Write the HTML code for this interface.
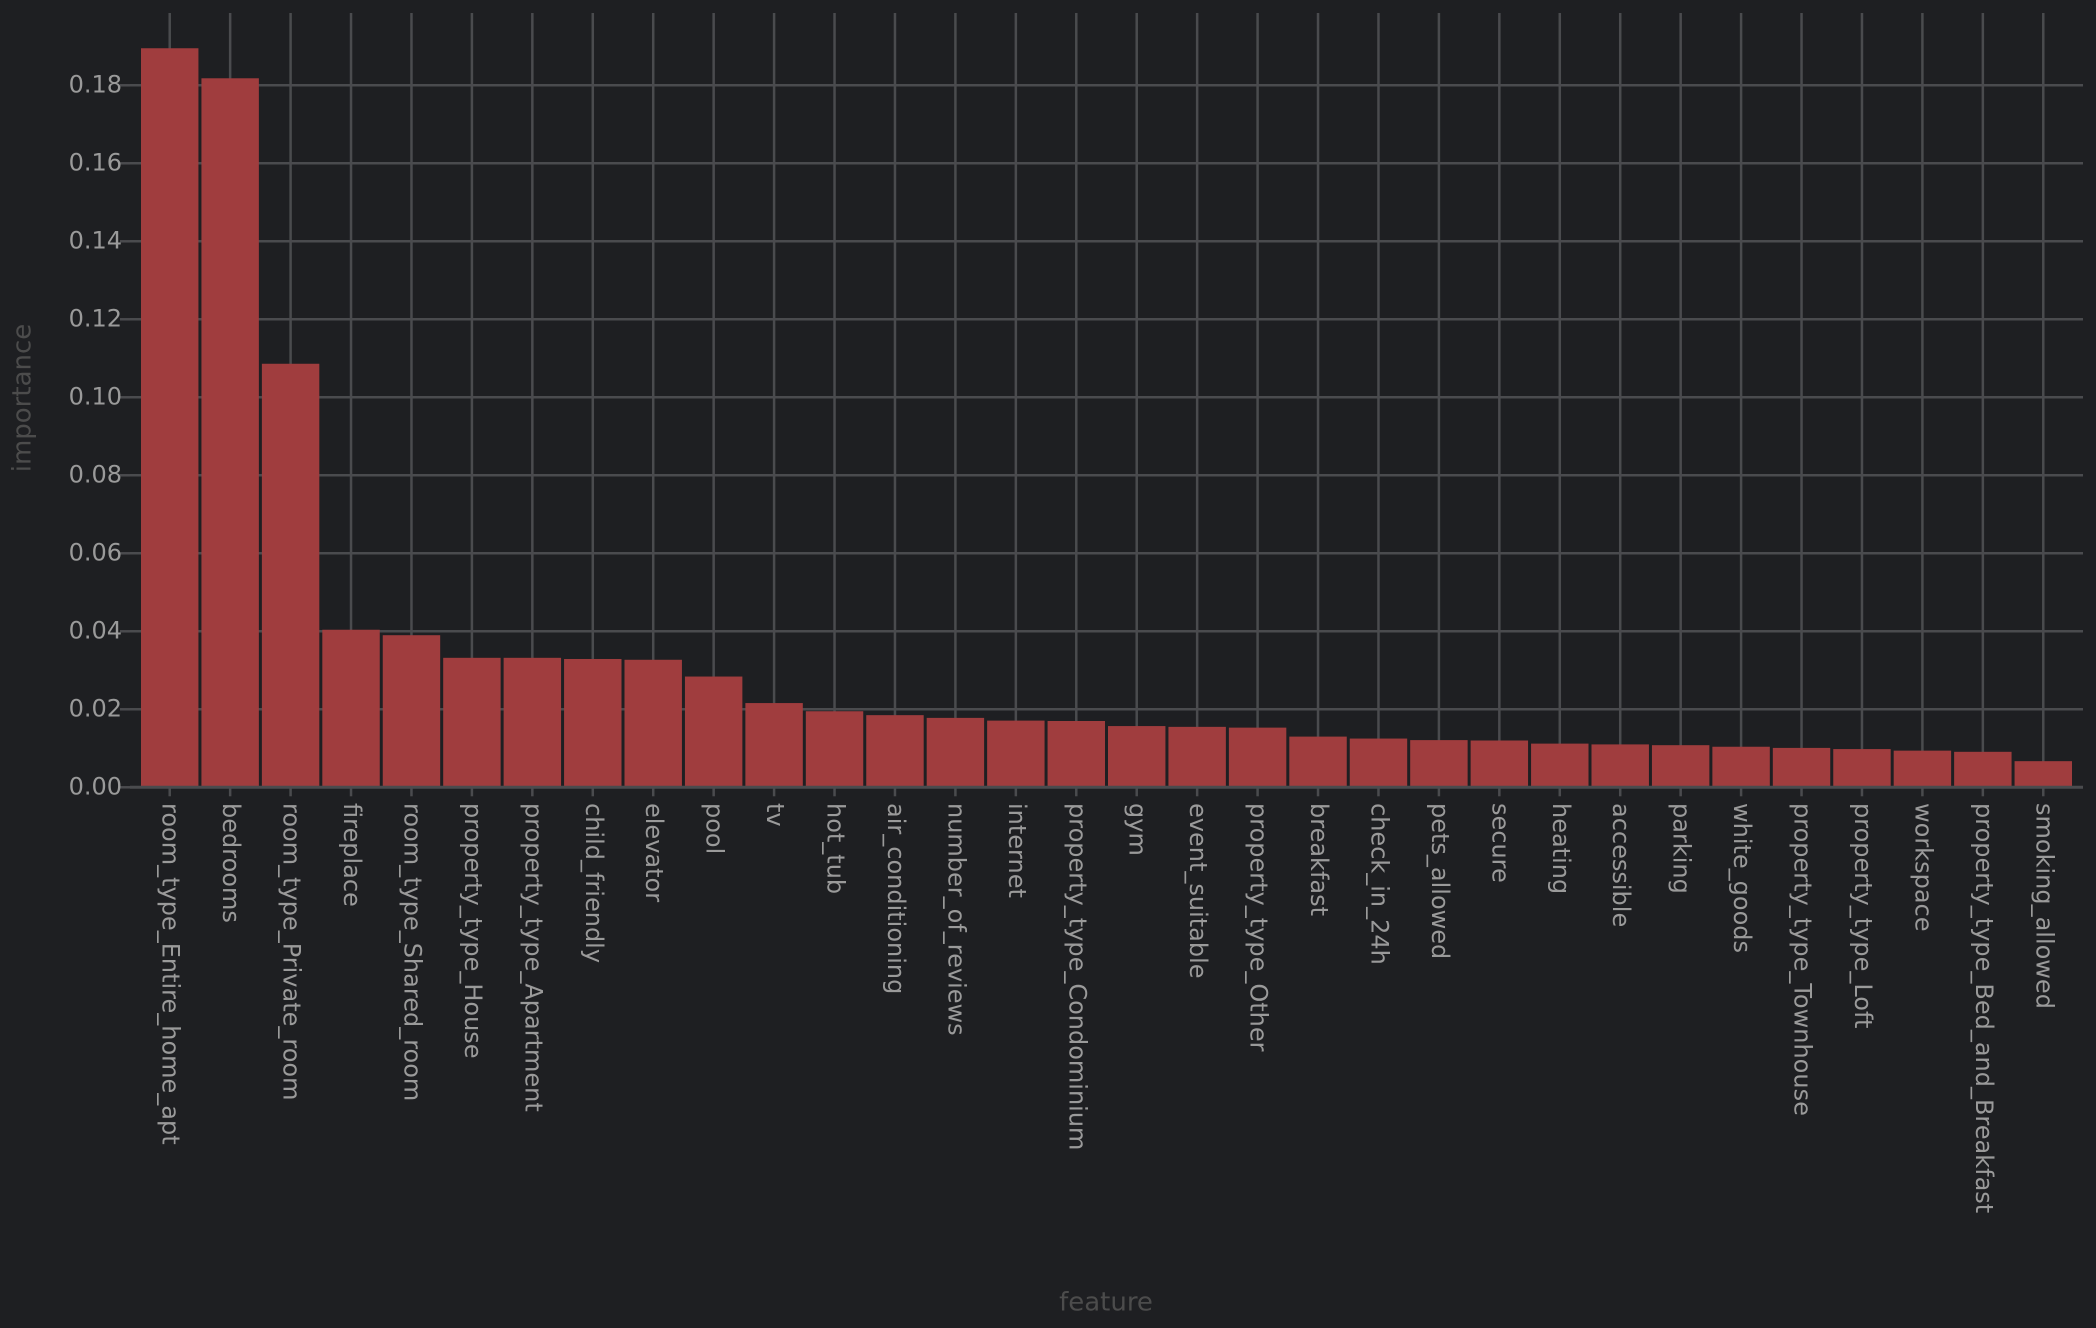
<!DOCTYPE html>
<html><head><meta charset="utf-8"><style>
html,body{margin:0;padding:0;background:#1e1f22;}
svg{display:block;font-family:"DejaVu Sans","Liberation Sans",sans-serif;}
</style></head><body>
<svg id="chart" width="2096" height="1328" viewBox="0 0 2096 1328">
<rect x="0" y="0" width="2096" height="1328" fill="#1e1f22"/>
<g id="grid"></g>
<g id="bars"></g>
<g id="xaxis"></g>
<g id="yaxis"></g>
<text x="23" y="398" transform="rotate(-90 23 398)" text-anchor="middle" dominant-baseline="middle" font-size="26" fill="#4c4c4c">importance</text>
<text x="1106" y="1303" text-anchor="middle" dominant-baseline="middle" font-size="26" fill="#4c4c4c">feature</text>
</svg>
<script>
const categories = ["room_type_Entire_home_apt","bedrooms","room_type_Private_room","fireplace","room_type_Shared_room","property_type_House","property_type_Apartment","child_friendly","elevator","pool","tv","hot_tub","air_conditioning","number_of_reviews","internet","property_type_Condominium","gym","event_suitable","property_type_Other","breakfast","check_in_24h","pets_allowed","secure","heating","accessible","parking","white_goods","property_type_Townhouse","property_type_Loft","workspace","property_type_Bed_and_Breakfast","smoking_allowed"];
const importance = [0.1895,0.1818,0.1086,0.0404,0.0390,0.0332,0.0332,0.0329,0.0327,0.0284,0.0216,0.0195,0.0185,0.0178,0.0171,0.0170,0.0157,0.0155,0.0153,0.0130,0.0125,0.0121,0.0120,0.0112,0.0110,0.0108,0.0104,0.0101,0.0098,0.0094,0.0091,0.0067];
const yTicks = [0,0.02,0.04,0.06,0.08,0.10,0.12,0.14,0.16,0.18];
const yTickLabels = ["0.00","0.02","0.04","0.06","0.08","0.10","0.12","0.14","0.16","0.18"];

const NS = "http://www.w3.org/2000/svg";
const plotLeft = 130, plotRight = 2083, plotTop = 13, plotBottom = 787.3;
function yScale(v){ return plotBottom - v / 0.02 * 78; }
const pad = 9.5;
const step = (plotRight - plotLeft - 2*pad) / categories.length;
function xCenter(i){ return plotLeft + pad + step*(i+0.5); }
function mk(tag, attrs, parent){ const e=document.createElementNS(NS,tag); for(const k in attrs) e.setAttribute(k,attrs[k]); parent.appendChild(e); return e; }

const gridG=document.getElementById('grid'), barsG=document.getElementById('bars'), xaG=document.getElementById('xaxis'), yaG=document.getElementById('yaxis');
yTicks.forEach((t,i)=>{
  if(i===0) return;
  const l=mk('line',{x1:plotLeft,x2:plotRight,y1:yScale(t),y2:yScale(t),stroke:'#4a4b4e','stroke-width':2.5},gridG);
  
  
});
categories.forEach((c,i)=>{
  const l=mk('line',{x1:xCenter(i),x2:xCenter(i),y1:plotTop,y2:plotBottom,stroke:'#4a4b4e','stroke-width':2.5},gridG);
  
  
});
categories.forEach((c,i)=>{
  const w=step-3;
  const r=mk('rect',{x:xCenter(i)-w/2,y:yScale(importance[i]),width:w,height:plotBottom-yScale(importance[i]),fill:'#a03d3e'},barsG);
  
  
  const tk=mk('line',{x1:xCenter(i),x2:xCenter(i),y1:plotBottom,y2:plotBottom+9,stroke:'#4a4b4e','stroke-width':2.5},xaG);
  
  
  const tx=mk('text',{x:xCenter(i),y:803,transform:'rotate(90 '+xCenter(i)+' 803)','dominant-baseline':'middle','font-size':24,fill:'#9a9a9a'},xaG);
  tx.textContent=c;
  
  
});
const ax=mk('line',{x1:plotLeft,x2:plotRight,y1:plotBottom,y2:plotBottom,stroke:'#4a4b4e','stroke-width':3},xaG);


yTicks.forEach((t,i)=>{
  const tk=mk('line',{x1:plotLeft-10,x2:plotLeft,y1:yScale(t),y2:yScale(t),stroke:'#4a4b4e','stroke-width':2.5},yaG);
  
  
  const tx=mk('text',{x:122,y:yScale(t),'text-anchor':'end','dominant-baseline':'middle','font-size':24,fill:'#9a9a9a'},yaG);
  tx.textContent=yTickLabels[i];
  
  
});
</script>
</body></html>
